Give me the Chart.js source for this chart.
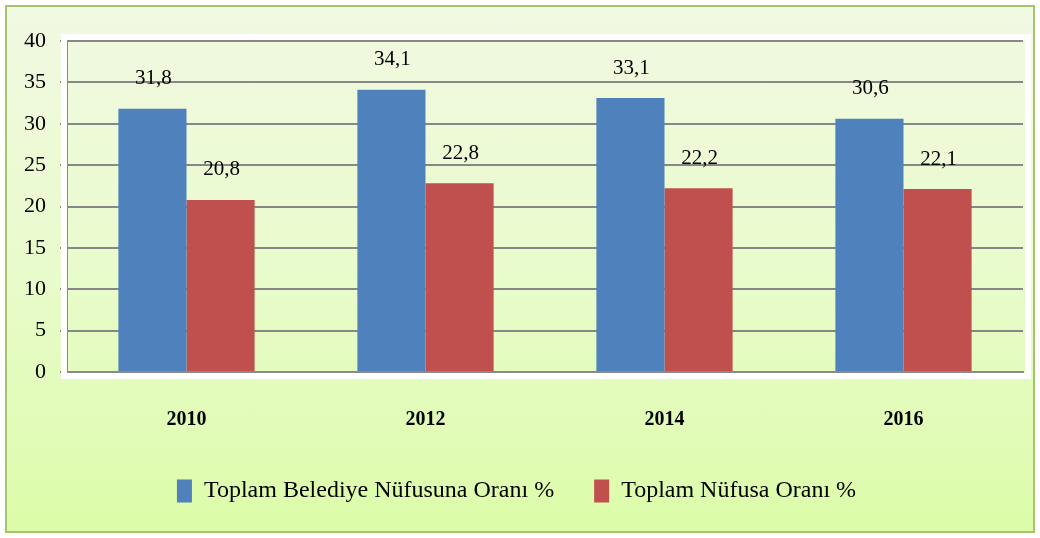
<!DOCTYPE html>
<html>
<head>
<meta charset="utf-8">
<script src="https://cdn.jsdelivr.net/npm/chart.js@4"></script>
<style>
  html, body { margin: 0; padding: 0; background: #ffffff; }
  #frame {
    position: absolute; left: 5px; top: 5px; width: 1030px; height: 528px;
    box-sizing: border-box;
    border: 2px solid #a8c46a;
    background: linear-gradient(to bottom, #f1f9e2 0%, #e9fbcc 50%, #dcfca9 100%);
  }
  #chart { display: block; }
</style>
</head>
<body>
<div id="frame"><canvas id="chart" width="1026" height="524"></canvas></div>
<script>
const categories = ['2010', '2012', '2014', '2016'];
const belediyeOrani = [31.8, 34.1, 33.1, 30.6];
const nufusOrani = [20.8, 22.8, 22.2, 22.1];
const seriesNames = ['Toplam Belediye Nüfusuna Oranı %', 'Toplam Nüfusa Oranı %'];
const yTicks = [0, 5, 10, 15, 20, 25, 30, 35, 40];

const FONT = "'Liberation Serif', 'DejaVu Serif', serif";

// white border round the plot area, like the office chart
const plotBorder = {
    id: 'plotBorder',
    beforeDatasetsDraw(chart) {
        const { ctx, chartArea: a } = chart;
        ctx.save();
        ctx.strokeStyle = '#ffffff';
        ctx.lineWidth = 6;
        ctx.strokeRect(a.left - 3, a.top - 4, a.right - a.left + 8, a.bottom - a.top + 8);
        ctx.restore();
    }
};

// value labels above each bar, decimal comma
const valueLabels = {
    id: 'valueLabels',
    afterDatasetsDraw(chart) {
        const { ctx } = chart;
        ctx.save();
        ctx.font = `21px ${FONT}`;
        ctx.fillStyle = '#000000';
        ctx.textAlign = 'center';
        ctx.textBaseline = 'middle';
        chart.data.datasets.forEach((ds, i) => {
            chart.getDatasetMeta(i).data.forEach((bar, j) => {
                const txt = ds.data[j].toFixed(1).replace('.', ',');
                ctx.fillText(txt, bar.x + 1, bar.y - 30);
            });
        });
        ctx.restore();
    }
};

new Chart(document.getElementById('chart').getContext('2d'), {
    type: 'bar',
    data: {
        labels: categories,
        datasets: [
            { label: seriesNames[0], data: belediyeOrani, backgroundColor: '#4f81bd' },
            { label: seriesNames[1], data: nufusOrani, backgroundColor: '#c0504d' },
        ]
    },
    options: {
        responsive: false,
        animation: false,
        layout: { padding: { left: 3, right: 10, top: 34, bottom: 18 } },
        categoryPercentage: 0.57,
        barPercentage: 1.0,
        plugins: {
            legend: {
                position: 'bottom',
                labels: {
                    boxWidth: 15, boxHeight: 23, padding: 40,
                    color: '#000000',
                    font: { family: FONT, size: 24 }
                }
            },
            tooltip: { enabled: false }
        },
        scales: {
            x: {
                grid: { display: true, drawOnChartArea: false, color: '#8a8a8a', lineWidth: 2, tickLength: 7, offset: true },
                border: { color: '#8a8a8a', width: 2 },
                ticks: { color: '#000000', padding: 29, font: { family: FONT, size: 20, weight: 'bold' } },
                afterFit(axis) { axis.height -= 22; }
            },
            y: {
                min: 0, max: 40,
                afterBuildTicks(axis) { axis.ticks = yTicks.map(v => ({ value: v })); },
                grid: { color: '#878787', lineWidth: 2, tickLength: 7 },
                border: { color: '#8a8a8a', width: 2 },
                ticks: { color: '#000000', padding: 14, font: { family: FONT, size: 22 } }
            }
        }
    },
    plugins: [plotBorder, valueLabels]
});
</script>
</body>
</html>
